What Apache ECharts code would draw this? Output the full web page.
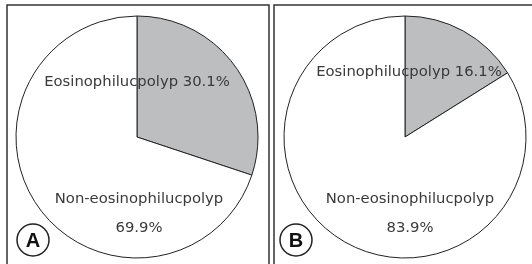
<!DOCTYPE html>
<html>
<head>
<meta charset="utf-8">
<script src="https://cdn.jsdelivr.net/npm/echarts@6/dist/echarts.min.js"></script>
<style>
html,body{margin:0;padding:0;background:#fff;}
#main{width:532px;height:264px;}
</style>
</head>
<body>
<div id="main"></div>
<script>
// Data
var panelLetters = ['A', 'B'];
var categories = ['Eosinophilucpolyp', 'Non-eosinophilucpolyp'];
var valuesA = [30.1, 69.9];
var valuesB = [16.1, 83.9];

// Styles / layout
var sliceColors = ['#bdbec0', '#ffffff'];
var centers = [[137, 137], [405, 137]];
var labelPos = [
  [[137, 82], [139, 214]],
  [[409, 72], [410, 214]]
];
var panels = [[7, 5, 262, 262], [274, 5, 262, 262]];
var letterPos = [[33, 240], [296, 240]];
var fontFamily = 'DejaVu Sans';

function makeSeries(idx, values) {
  return {
    type: 'pie',
    center: centers[idx],
    radius: 121,
    startAngle: 90,
    clockwise: true,
    silent: true,
    animation: false,
    itemStyle: { borderColor: '#222', borderWidth: 1 },
    data: categories.map(function (c, i) {
      return { name: c, value: values[i], itemStyle: { color: sliceColors[i] } };
    }),
    label: {
      show: true,
      position: 'inside',
      color: '#3a3a3a',
      fontFamily: fontFamily,
      fontSize: 14.8,
      lineHeight: 29,
      formatter: function (p) {
        return p.dataIndex === 0 ? p.name + ' ' + p.value + '%' : p.name + '\n' + p.value + '%';
      }
    },
    labelLine: { show: false },
    labelLayout: function (p) {
      var pos = labelPos[idx][p.dataIndex];
      return { x: pos[0], y: pos[1], align: 'center', verticalAlign: 'middle', hideOverlap: false };
    }
  };
}

var graphics = [];
panels.forEach(function (r) {
  graphics.push({ type: 'rect', shape: { x: r[0], y: r[1], width: r[2], height: r[3] }, style: { fill: 'none', stroke: '#333', lineWidth: 1.5 }, silent: true });
});
letterPos.forEach(function (p, i) {
  graphics.push({ type: 'circle', shape: { cx: p[0], cy: p[1], r: 16 }, style: { fill: '#fff', stroke: '#222', lineWidth: 1.5 }, silent: true, z: 100 });
  graphics.push({ type: 'text', x: p[0], y: p[1] + 1, style: { text: panelLetters[i], fontSize: 20, fontWeight: 'bold', fontFamily: 'Liberation Sans', fill: '#111', textAlign: 'center', textVerticalAlign: 'middle' }, silent: true, z: 101 });
});

var chart = echarts.init(document.getElementById('main'), null, { renderer: 'canvas' });
chart.setOption({
  backgroundColor: '#fff',
  animation: false,
  series: [makeSeries(0, valuesA), makeSeries(1, valuesB)],
  graphic: graphics
});
</script>
</body>
</html>
